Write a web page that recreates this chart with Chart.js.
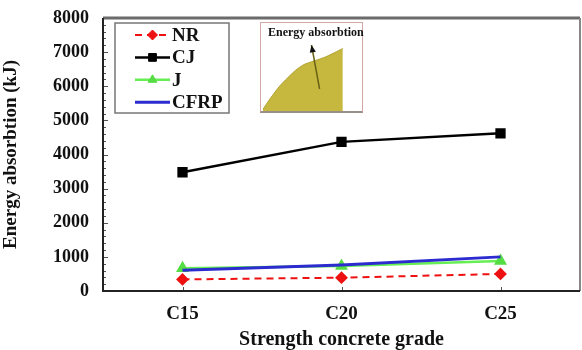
<!DOCTYPE html>
<html>
<head>
<meta charset="utf-8">
<script src="https://cdn.jsdelivr.net/npm/chart.js@4.4.1/dist/chart.umd.min.js"></script>
<style>
  html, body { margin: 0; padding: 0; background: #fff; }
  #wrap { position: relative; width: 582px; height: 350px; }
  #main { position: absolute; left: 0; top: 0; }
  #insetBox { position: absolute; left: 260px; top: 22px; width: 101px; height: 88px;
    border: 1px solid #d4a7a7; border-bottom: 2px solid #9a8f86; background: #fff; }
  #inset { position: absolute; left: 261px; top: 23px; }
  #insetLabel { position: absolute; left: 268px; top: 25px; font: bold 12px "Liberation Serif", serif;
    color: #111; white-space: nowrap; }
</style>
</head>
<body>
<div id="wrap">
  <canvas id="main" width="582" height="350"></canvas>
  <div id="insetBox"></div>
  <canvas id="inset" width="101" height="88"></canvas>
  <div id="insetLabel">Energy absorbtion</div>
</div>
<script>
// Concrete strength grades
const grades = ['C15', 'C20', 'C25'];

// Energy absorption (kJ) per specimen type
const nrValues   = [340, 390, 500];
const cjValues   = [3480, 4370, 4620];
const jValues    = [670, 730, 880];
const cfrpValues = [610, 760, 1000];

// Y axis range and tick step
const yMin = 0;
const yMax = 8000;
const yStep = 1000;
const yMinorStep = 200;

// Small sketch of a load-displacement area (inset)
const sketchX = [2, 9, 19, 34, 43, 63, 81];
const sketchY = [2, 14, 29, 46, 53, 61, 71];
const arrowFrom = [58, 25];
const arrowTo = [50, 75];

const serif = '"Liberation Serif", "Times New Roman", serif';

// Frame around the plot plus inner tick marks on the value axis
const framePlugin = {
  id: 'frame',
  afterDatasetsDraw(chart) {
    const { ctx, chartArea: a } = chart;
    const y = chart.scales.y;
    const x = chart.scales.x;
    ctx.save();
    ctx.strokeStyle = '#555';
    ctx.lineWidth = 1;
    for (let v = yMin; v <= yMax; v += yMinorStep) {
      const py = Math.round(y.getPixelForValue(v)) + 0.5;
      const len = (v % yStep === 0) ? 5 : 3;
      ctx.beginPath();
      ctx.moveTo(a.left, py);
      ctx.lineTo(a.left + len, py);
      ctx.stroke();
    }
    grades.forEach((g, i) => {
      const px = Math.round(x.getPixelForValue(i)) + 0.5;
      ctx.beginPath();
      ctx.moveTo(px, a.bottom);
      ctx.lineTo(px, a.bottom - 4);
      ctx.stroke();
    });
    ctx.strokeStyle = '#6b6b6b';
    ctx.lineWidth = 3;
    ctx.beginPath();
    ctx.moveTo(a.left, a.top);
    ctx.lineTo(a.right, a.top);
    ctx.stroke();
    ctx.lineWidth = 2;
    ctx.strokeStyle = '#888';
    ctx.beginPath();
    ctx.moveTo(a.right, a.top);
    ctx.lineTo(a.right, a.bottom);
    ctx.stroke();
    ctx.strokeStyle = '#222';
    ctx.lineWidth = 2;
    ctx.beginPath();
    ctx.moveTo(a.left, a.top);
    ctx.lineTo(a.left, a.bottom);
    ctx.lineTo(a.right, a.bottom);
    ctx.stroke();
    ctx.restore();
  }
};

// Boxed legend in the upper-left corner of the plot
const boxLegendPlugin = {
  id: 'boxLegend',
  afterDraw(chart) {
    const { ctx, chartArea: a } = chart;
    const left = a.left + 12, top = a.top + 5, w = 114, h = 90;
    ctx.save();
    ctx.strokeStyle = '#777';
    ctx.lineWidth = 1.5;
    ctx.strokeRect(left, top, w, h);
    chart.data.datasets.forEach((ds, i) => {
      const cy = top + 12 + i * 22.4;
      const x0 = left + 20, x1 = left + 55, xm = (x0 + x1) / 2;
      ctx.strokeStyle = ds.borderColor;
      ctx.lineWidth = ds.borderWidth;
      ctx.setLineDash(ds.borderDash || []);
      ctx.beginPath();
      ctx.moveTo(x0, cy);
      ctx.lineTo(x1, cy);
      ctx.stroke();
      ctx.setLineDash([]);
      if (ds.pointRadius > 0) {
        ctx.fillStyle = ds.pointBackgroundColor;
        ctx.strokeStyle = ds.pointBorderColor;
        ctx.lineWidth = 1;
        Chart.helpers.drawPoint(ctx, {
          pointStyle: ds.pointStyle, radius: ds.pointRadius, rotation: 0, borderWidth: 1
        }, xm, cy);
      }
      ctx.fillStyle = '#111';
      ctx.font = 'bold 19px ' + serif;
      ctx.textBaseline = 'middle';
      ctx.textAlign = 'left';
      ctx.fillText(ds.label, x1 + 2, cy + 1);
    });
    ctx.restore();
  }
};

new Chart(document.getElementById('main'), {
  type: 'line',
  data: {
    labels: grades,
    datasets: [
      {
        label: 'NR', data: nrValues, order: 0,
        borderColor: '#ee1111', borderWidth: 2, borderDash: [7, 5],
        pointStyle: 'rectRot', pointRadius: 5,
        pointBackgroundColor: '#ee1111', pointBorderColor: '#ee1111'
      },
      {
        label: 'CJ', data: cjValues, order: 1,
        borderColor: '#000000', borderWidth: 2.5,
        pointStyle: 'rect', pointRadius: 5.5,
        pointBackgroundColor: '#000000', pointBorderColor: '#000000'
      },
      {
        label: 'J', data: jValues, order: 3,
        borderColor: '#66ee55', borderWidth: 2.5,
        pointStyle: 'triangle', pointRadius: 5,
        pointBackgroundColor: '#55dd44', pointBorderColor: '#55dd44'
      },
      {
        label: 'CFRP', data: cfrpValues, order: 2,
        borderColor: '#2b2bd0', borderWidth: 3,
        pointStyle: 'rect', pointRadius: 0,
        pointBackgroundColor: '#2b2bd0', pointBorderColor: '#2b2bd0'
      }
    ]
  },
  options: {
    responsive: false,
    animation: false,
    layout: { autoPadding: false, padding: { left: 0, right: 2, top: 18, bottom: 0 } },
    plugins: {
      legend: { display: false },
      tooltip: { enabled: false }
    },
    scales: {
      x: {
        offset: true,
        grid: { display: false, drawTicks: false },
        border: { display: false },
        ticks: { color: '#111', font: { family: serif, size: 19, weight: 'bold' }, padding: 12 },
        title: {
          display: true, text: 'Strength concrete grade', color: '#111',
          font: { family: serif, size: 20, weight: 'bold', lineHeight: 1.0 }, padding: { top: 3, bottom: 0 }
        },
        afterFit(s) { s.height = 59; s.paddingLeft = 0; s.paddingRight = 0; }
      },
      y: {
        min: yMin, max: yMax,
        grid: { display: false, drawTicks: false },
        border: { display: false },
        ticks: {
          stepSize: yStep, color: '#111', padding: 14,
          font: { family: serif, size: 18, weight: 'bold' },
          callback: (v) => String(v)
        },
        title: {
          display: true, text: 'Energy absorbtion (kJ)', color: '#111',
          font: { family: serif, size: 19, weight: 'bold' }, padding: { top: 0, bottom: 4 }
        },
        afterFit(s) { s.width = 103; s.paddingTop = 0; s.paddingBottom = 0; }
      }
    }
  },
  plugins: [framePlugin, boxLegendPlugin]
});

// Arrow pointing to the shaded area in the inset
const arrowPlugin = {
  id: 'arrow',
  afterDatasetsDraw(chart) {
    const { ctx } = chart;
    const sx = chart.scales.x, sy = chart.scales.y;
    const x0 = sx.getPixelForValue(arrowFrom[0]), y0 = sy.getPixelForValue(arrowFrom[1]);
    const x1 = sx.getPixelForValue(arrowTo[0]), y1 = sy.getPixelForValue(arrowTo[1]);
    const ang = Math.atan2(y1 - y0, x1 - x0);
    ctx.save();
    ctx.strokeStyle = '#6a6214';
    ctx.lineWidth = 1.5;
    ctx.beginPath();
    ctx.moveTo(x0, y0);
    ctx.lineTo(x1, y1);
    ctx.stroke();
    ctx.fillStyle = '#111';
    ctx.beginPath();
    ctx.moveTo(x1, y1);
    ctx.lineTo(x1 - 8 * Math.cos(ang - 0.4), y1 - 8 * Math.sin(ang - 0.4));
    ctx.lineTo(x1 - 8 * Math.cos(ang + 0.4), y1 - 8 * Math.sin(ang + 0.4));
    ctx.closePath();
    ctx.fill();
    ctx.restore();
  }
};

new Chart(document.getElementById('inset'), {
  type: 'line',
  data: {
    datasets: [{
      data: sketchX.map((x, i) => ({ x: x, y: sketchY[i] })),
      fill: 'origin',
      backgroundColor: '#c6b83e',
      borderColor: '#b0a232',
      borderWidth: 1,
      pointRadius: 0,
      tension: 0.2
    }]
  },
  options: {
    responsive: false,
    animation: false,
    layout: { autoPadding: false, padding: 0 },
    plugins: { legend: { display: false }, tooltip: { enabled: false } },
    scales: {
      x: { type: 'linear', min: 0, max: 100, display: false },
      y: { min: 0, max: 100, display: false }
    }
  },
  plugins: [arrowPlugin]
});
</script>
</body>
</html>
